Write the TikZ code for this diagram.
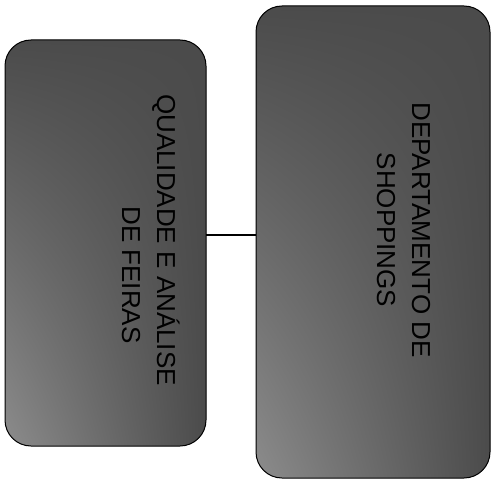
\documentclass[tikz,border=0pt]{standalone}
\usepackage{fontspec}
\setmainfont{Liberation Sans}
\usetikzlibrary{shadings}
\definecolor{boxfill}{RGB}{75,75,75}
\definecolor{boxlight}{RGB}{140,140,140}
\begin{document}
\begin{tikzpicture}[x=1pt,y=-1pt,
  panel/.style={shade,draw=black,line width=1pt,rounded corners=26pt,
    lower left=boxlight,upper right=boxfill,lower right=boxfill,upper left=boxfill},
  label/.style={rotate=-90,font=\fontsize{26}{30}\selectfont,text=black,inner sep=0pt},
  link/.style={draw=black,line width=1.5pt}]
\useasboundingbox (0,0) rectangle (492,481);
\path[panel] (5,40) rectangle (206,446);
\path[panel] (256,6) rectangle (490,478);
\coordinate (lr) at (206,235);
\coordinate (rl) at (256,235);
\draw[link] (lr) -- (rl);
\node[label] (l1) at (166,240) {QUALIDADE E ANÁLISE};
\node[label] (l2) at (131,275) {DE FEIRAS};
\node[label] (r1) at (421,230) {DEPARTAMENTO DE};
\node[label] (r2) at (386,230) {SHOPPINGS};
\end{tikzpicture}
\end{document}
